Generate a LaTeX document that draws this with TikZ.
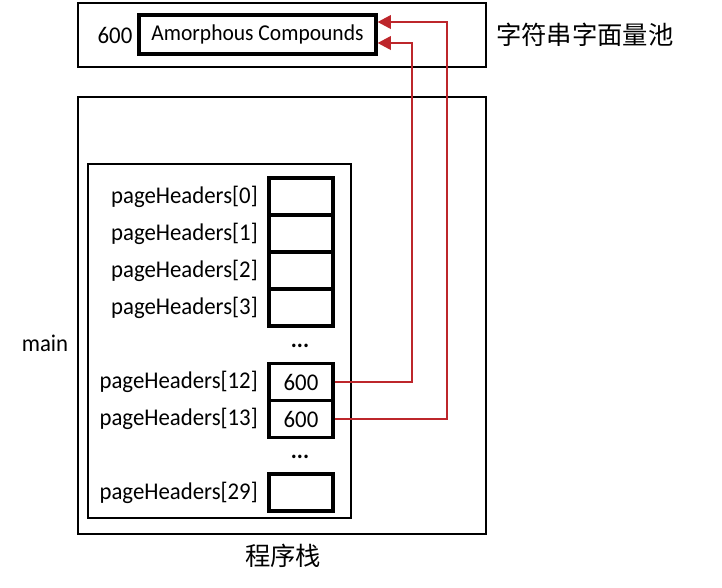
\documentclass[tikz,border=0pt]{standalone}
\usepackage{fontspec}
\setmainfont{Carlito}[FakeStretch=0.95]
\newfontfamily\cjk{Noto Sans CJK SC}
\usepackage{tikz}
\usetikzlibrary{arrows.meta}
\definecolor{ptrred}{rgb}{0.74, 0.15, 0.17}
\tikzstyle{every node}=[font=\fontsize{18}{21}\selectfont]
\tikzstyle{cell}=[draw, line width=2.3pt, minimum width=48pt, minimum height=27.75pt, inner sep=0pt]
\tikzstyle{lbl}=[anchor=east, inner sep=0pt]
\tikzstyle{ptr}=[ptrred, line width=2pt, -{Triangle[length=10pt,width=10pt]}]

\begin{document}
\begin{tikzpicture}[x=0.75pt, y=-0.75pt]
\useasboundingbox (0,0) rectangle (722,587);
% string pool
\draw[line width=1.8pt] (78,3) rectangle (486,67);
\node[inner sep=0pt] (addr) at (115,35) {600};
\node[draw, line width=2.3pt, minimum width=177.75pt, minimum height=29.25pt, inner sep=0pt, font=\fontsize{17}{20}\selectfont] (str) at (257.5,34.5) {Amorphous Compounds};
\node[anchor=west, inner sep=0pt, font=\cjk\fontsize{19}{22}\selectfont] (pool) at (496,35) {字符串字面量池};
% stack
\draw[line width=1.8pt] (78,97) rectangle (486,534);
\draw[line width=1.8pt] (88,164) rectangle (351,518);
\node (main) at (45,343) {main};
\node[font=\cjk\fontsize{19}{22}\selectfont] (stack) at (283,556) {程序栈};
% array cells
\node[cell] (c0) at (301,196.5) {};
\node[cell] (c1) at (301,233.5) {};
\node[cell] (c2) at (301,270.5) {};
\node[cell] (c3) at (301,307.5) {};
\node[cell] (c12) at (301,382) {600};
\node[cell] (c13) at (301,419) {600};
\node[cell] (c29) at (301,492.5) {};
\node (dots1) at (300,346) {\textbf{...}};
\node (dots2) at (300,457) {\textbf{...}};
\node[lbl] (l0) at (258,196.5) {pageHeaders[0]};
\node[lbl] (l1) at (258,233.5) {pageHeaders[1]};
\node[lbl] (l2) at (258,270.5) {pageHeaders[2]};
\node[lbl] (l3) at (258,307.5) {pageHeaders[3]};
\node[lbl] (l12) at (258,382) {pageHeaders[12]};
\node[lbl] (l13) at (258,419) {pageHeaders[13]};
\node[lbl] (l29) at (258,492.5) {pageHeaders[29]};
% pointers
\coordinate (lo) at (412,43);
\coordinate (hi) at (447,22);
\draw[ptr] (c12.east) -| (lo) -- (lo -| str.east);
\draw[ptr] (c13.east) -| (hi) -- (hi -| str.east);
\end{tikzpicture}
\end{document}
